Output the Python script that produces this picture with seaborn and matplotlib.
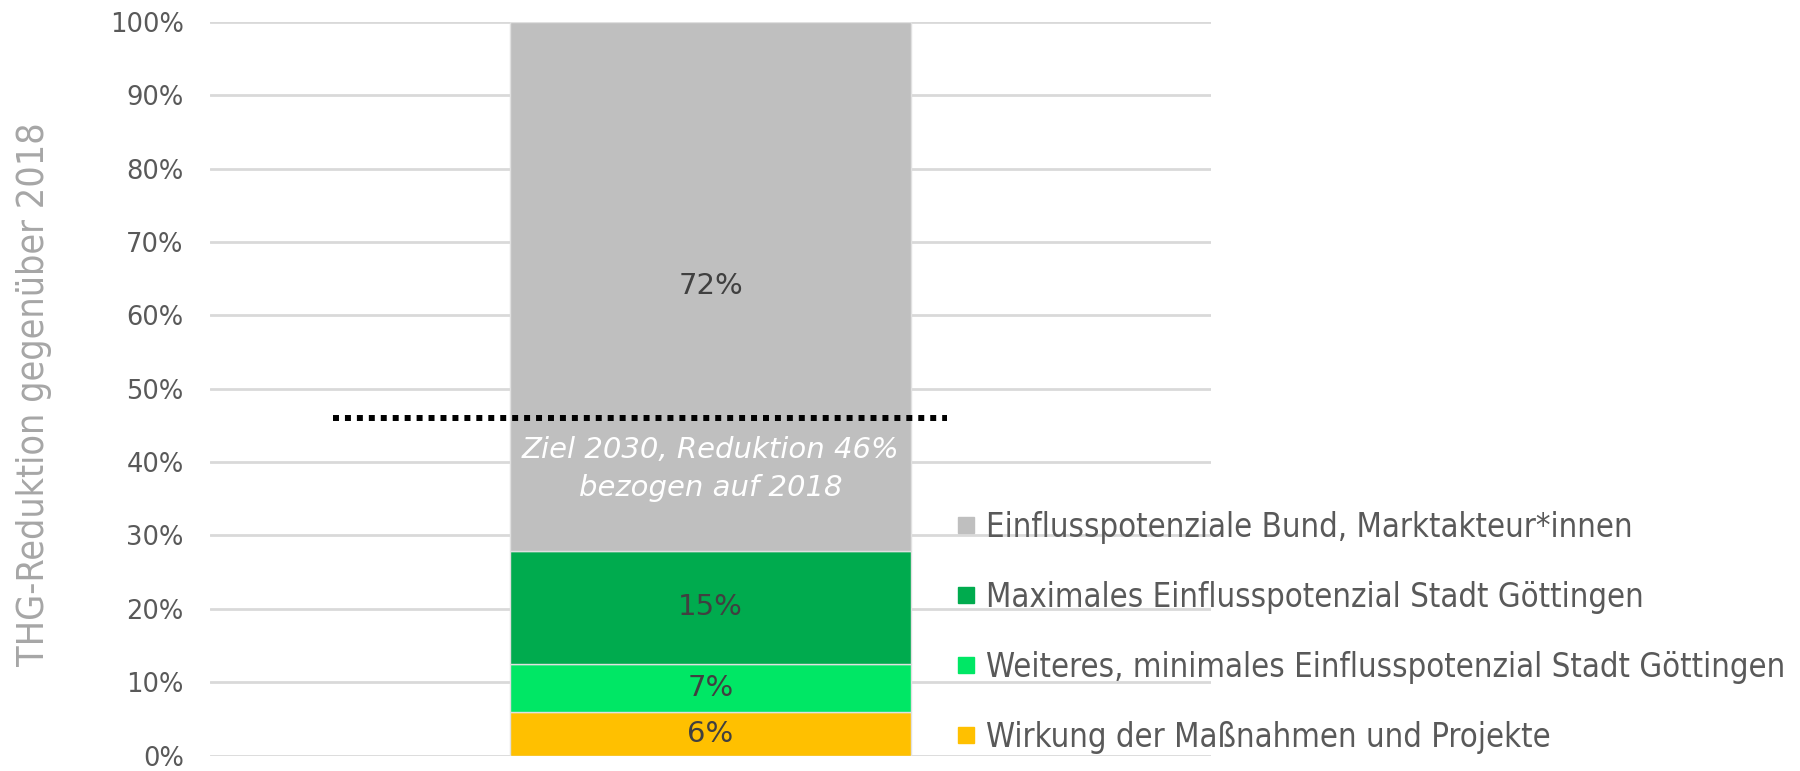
import os

import matplotlib.pyplot as plt
import matplotlib.ticker as mticker
from matplotlib import font_manager
from matplotlib.lines import Line2D
import numpy as np
import seaborn as sns

sns.set_style("white")
plt.rcParams["font.family"] = ["DejaVu Sans"]

category = ["2030"]
segments = ["Wirkung der Maßnahmen und Projekte",
            "Weiteres, minimales Einflusspotenzial Stadt Göttingen",
            "Maximales Einflusspotenzial Stadt Göttingen",
            "Einflusspotenziale Bund, Marktakteur*innen"]
values = [5.9, 6.6, 15.4, 72.1]
bar_texts = ["6%", "7%", "15%", "72%"]
colors = ["#FFC000", "#00E765", "#00AB4E", "#BFBFBF"]
target = 46
target_text = "Ziel 2030, Reduktion 46%\nbezogen auf 2018"
yticks = np.arange(0, 101, 10)
ylabel = "THG-Reduktion gegenüber 2018"


def narrow_font():
    # look for a condensed / narrow sans face among installed fonts
    files = [f.fname for f in font_manager.fontManager.ttflist]
    for key in ["liberationsansnarrow-regular", "dejavusanscondensed.",
                "roboto_condensed-regular", "robotocondensed-regular",
                "notosans-condensed.", "notosans-condensedregular",
                "opensans-condensed", "opensans_condensed-regular"]:
        for f in files:
            if key in os.path.basename(f).lower():
                return font_manager.FontProperties(fname=f)
    for f in files:
        name = os.path.basename(f).lower()
        if ("condensed" in name or "narrow" in name) and "bold" not in name \
                and "italic" not in name and "light" not in name:
            return font_manager.FontProperties(fname=f)
    return font_manager.FontProperties(family="DejaVu Sans", stretch="condensed")


narrow = narrow_font()

fig = plt.figure(figsize=(18, 7.71), dpi=100)
ax = fig.add_axes([0.1167, 0.0201, 0.5561, 0.9516])

bottom = 0
for seg, val, txt, col in zip(segments, values, bar_texts, colors):
    sns.barplot(x=category, y=[val], bottom=bottom, color=col, saturation=1,
                width=0.4, errorbar=None, legend=False, ax=ax,
                edgecolor="#e0e0e0", linewidth=1, zorder=2)
    ax.bar_label(ax.containers[-1], labels=[txt], label_type="center",
                 fontsize=21, color="#404040")
    bottom += val

ax.set_xlim(-0.5, 0.5)

# target line + note
ax.plot([-0.377, 0.236], [target, target], color="black",
        linestyle=(0, (1, 1)), linewidth=4.3, dash_capstyle="butt", zorder=3)
ax.text(0, target - 6.9, target_text, ha="center", va="center", color="white",
        style="italic", fontsize=21, linespacing=1.45, zorder=4)

ax.set_ylim(0, 100)
ax.set_yticks(yticks)
ax.yaxis.set_major_formatter(mticker.PercentFormatter(xmax=100, decimals=0))
ax.set_xticks([])
ax.set_xlabel("")
ax.set_ylabel("")
ax.yaxis.grid(True, color="#d9d9d9", linewidth=2)
ax.set_axisbelow(True)
sns.despine(ax=ax, left=True, bottom=True)
ax.tick_params(axis="y", length=0, pad=19, labelsize=18.5, labelcolor="#595959")

ylab_font = narrow.copy()
ylab_font.set_size(27)
fig.text(34 / 1800, 1 - 394 / 771, ylabel, rotation=90, ha="center", va="center",
         color="#a6a6a6", fontproperties=ylab_font)

leg_font = narrow.copy()
leg_font.set_size(23.6)
handles = [Line2D([], [], marker="s", linestyle="none", markersize=11.5,
                  markerfacecolor=c, markeredgecolor=c) for c in colors[::-1]]
fig.legend(handles, segments[::-1], loc="center left",
           bbox_to_anchor=(0.531, 0.180), frameon=False,
           prop=leg_font, labelcolor="#595959",
           handlelength=0.6, handletextpad=0.31,
           labelspacing=1.13, borderaxespad=0, borderpad=0)

fig.savefig("out.png", dpi=100)
